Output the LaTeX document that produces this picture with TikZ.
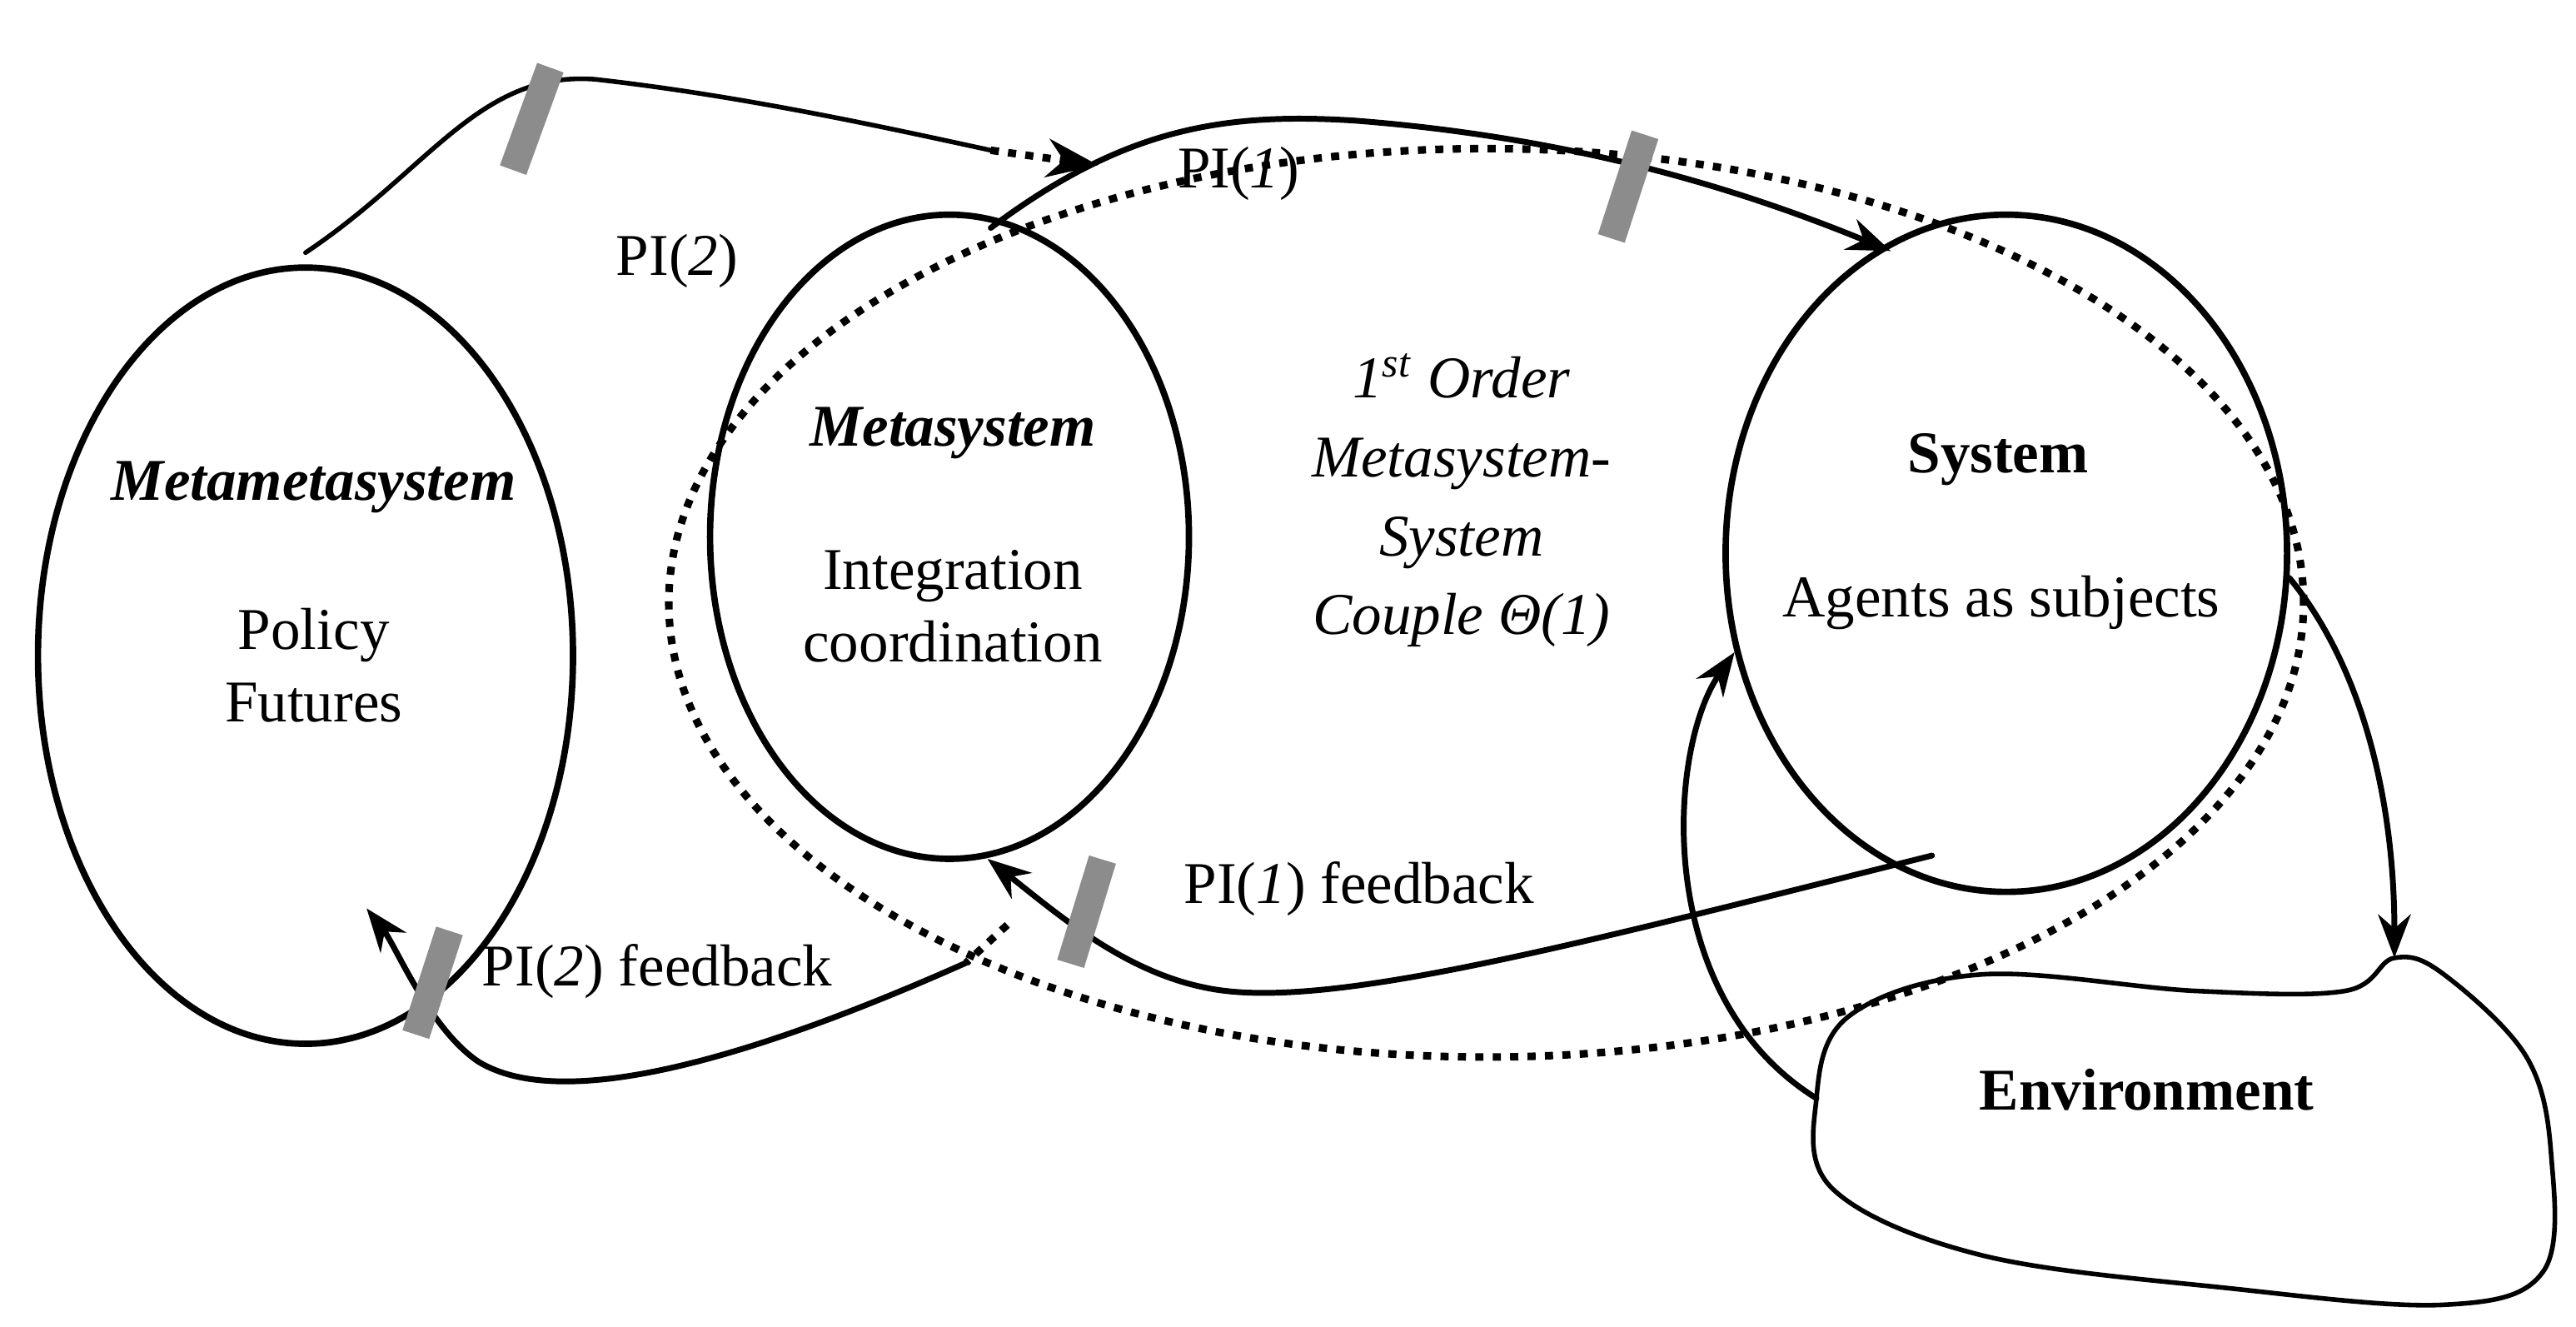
\documentclass[tikz,border=0pt]{standalone}
\usepackage{fontspec}
\setmainfont{Liberation Serif}
\usetikzlibrary{arrows.meta, calc, shapes.geometric}

\begin{document}
\begin{tikzpicture}[>=Stealth, line cap=round, line join=round,
    every node/.style={font=\fontsize{10.2}{12.5}\selectfont},
    sys/.style={ellipse, draw, line width=1.1pt, inner sep=0pt},
    flow/.style={->, line width=1.0pt},
    dots/.style={line width=1.3pt, line cap=butt, dash pattern=on 1.4pt off 1.6pt},
    bar/.style={rectangle, fill=gray!90, draw=none, minimum width=0.17cm, minimum height=0.66cm, inner sep=0pt}]
    \useasboundingbox (0,0) rectangle (15.6,8.03);

    % the dotted couple
    \draw[dots] (9.0,4.38) circle[x radius=4.95, y radius=2.75];

    % the three systems
    \node[sys, minimum width=3.24cm, minimum height=4.7cm] (mms) at (1.85,4.06) {};
    \node[sys, minimum width=2.9cm, minimum height=3.9cm] (ms) at (5.75,4.78) {};
    \node[sys, minimum width=3.4cm, minimum height=4.1cm] (sys) at (12.15,4.68) {};

    % environment
    \draw[line width=0.8pt] plot[smooth cycle, tension=0.6] coordinates {(11,1.38) (11.2,1.88) (12,2.13) (13.3,2.03) (14.2,2.03) (14.5,2.23) (14.8,2.13) (15.3,1.63) (15.45,1.03) (15.4,0.33) (14.8,0.13) (13.5,0.23) (12,0.43) (11.1,0.83)};
    \coordinate (envtop) at (14.5,2.23);
    \coordinate (envleft) at (11.0,1.38);
    \node[font=\fontsize{10.2}{12.5}\selectfont\bfseries] (env) at (13.0,1.43) {Environment};

    % texts
    \node[font=\fontsize{10.2}{12.5}\selectfont\bfseries\itshape] (mmst) at (1.9,5.08) {Metametasystem};
    \node[align=center] (mmsd) at (1.9,4.0) {Policy\\Futures};
    \node[font=\fontsize{10.2}{12.5}\selectfont\bfseries\itshape] (mst) at (5.77,5.41) {Metasystem};
    \node[align=center] (msd) at (5.77,4.36) {Integration\\coordination};
    \node[font=\fontsize{10.2}{12.5}\selectfont\bfseries] (syst) at (12.1,5.25) {System};
    \node (sysd) at (12.12,4.38) {Agents as subjects};
    \node[align=center, font=\fontsize{10.2}{13.6}\selectfont\itshape] (couple) at (8.85,5.0) {1\textsuperscript{st} Order\\Metasystem-\\System\\Couple Θ(1)};

    % labels
    \node (pi2) at (4.1,6.45) {PI(\textit{2})};
    \node (pi1) at (7.5,6.98) {PI(\textit{1})};
    \node (pi1f) at (8.23,2.65) {PI(\textit{1}) feedback};
    \node (pi2f) at (3.98,2.15) {PI(\textit{2}) feedback};

    %--- PI(2) channel
    \coordinate (a) at (1.85,6.5);
    \coordinate (b) at (6.0,7.12);
    \coordinate (c) at (6.65,7.03);
    \draw[line width=0.8pt] (a) .. controls (2.6,7.0) and (2.9,7.6) .. (3.6,7.55) .. controls (4.5,7.45) and (5.4,7.25) .. (b);
    \draw[->, dots] (b) -- (c);
    \node[bar, rotate=-20] (bar2) at (3.22,7.31) {};

    %--- PI(1) channel
    \coordinate (d) at (6.0,6.65);
    \coordinate (e) at (11.45,6.51);
    \draw[flow] (d) .. controls (6.8,7.25) and (7.4,7.35) .. (8.2,7.3) .. controls (9.5,7.2) and (10.5,6.9) .. (e);
    \node[bar, rotate=-18] (bar1) at (9.86,6.9) {};

    %--- PI(1) feedback
    \coordinate (f) at (11.7,2.85);
    \coordinate (g) at (5.98,2.83);
    \draw[flow] (f) .. controls (9.5,2.3) and (8.0,1.9) .. (7.3,2.05) .. controls (6.8,2.15) and (6.4,2.5) .. (g);
    \node[bar, rotate=-17] (bar1f) at (6.58,2.51) {};

    %--- PI(2) feedback
    \coordinate (h) at (6.1,2.43);
    \coordinate (i) at (5.85,2.2);
    \coordinate (j) at (2.22,2.53);
    \draw[dots] (h) -- (i);
    \draw[flow] (i) .. controls (4.5,1.6) and (3.4,1.3) .. (2.9,1.6) .. controls (2.6,1.8) and (2.4,2.3) .. (j);
    \node[bar, rotate=-18] (bar2f) at (2.62,2.08) {};

    %--- system and environment
    \draw[flow] (sys.-5) .. controls (14.3,4.0) and (14.5,3.2) .. (envtop);
    \draw[flow] (envleft) .. controls (10.0,2.0) and (10.1,3.5) .. (sys.200);
\end{tikzpicture}
\end{document}
